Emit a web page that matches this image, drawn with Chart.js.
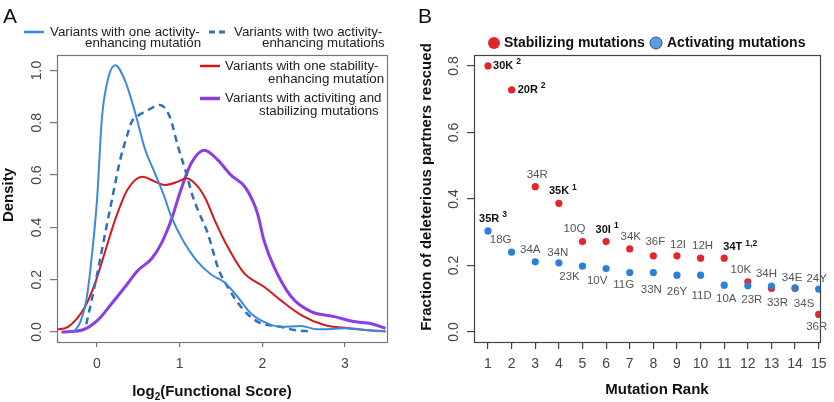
<!DOCTYPE html>
<html>
<head>
<meta charset="utf-8">
<script src="https://cdn.jsdelivr.net/npm/chart.js@4.4.1/dist/chart.umd.min.js"></script>
<style>
html, body { margin: 0; padding: 0; background: #fff; }
#wrap { position: relative; width: 834px; height: 402px; }
canvas { position: absolute; top: 0; }
#chartA { left: 0; }
#chartB { left: 417px; }
</style>
</head>
<body>
<div id="wrap">
  <canvas id="chartA" width="417" height="402"></canvas>
  <canvas id="chartB" width="417" height="402"></canvas>
</div>
<script>
const FONT = '"Liberation Sans", Arial, Helvetica, sans-serif';

// ---- Panel A: density curves (log2 functional score vs density) ----
const oneActX = [-0.28, -0.2, -0.13, -0.08, 0.0, 0.06, 0.14, 0.22, 0.34, 0.46, 0.58, 0.70, 0.80, 0.90, 1.04, 1.20, 1.38, 1.54, 1.70, 1.86, 2.06, 2.22, 2.47, 2.66, 2.85, 3.03, 3.25, 3.49];
const oneActY = [0.0, 0.04, 0.12, 0.24, 0.505, 0.82, 0.976, 1.02, 0.96, 0.84, 0.70, 0.607, 0.53, 0.44, 0.35, 0.275, 0.22, 0.19, 0.135, 0.072, 0.033, 0.02, 0.023, 0.011, 0.012, 0.015, 0.008, 0.003];

const twoActX = [-0.13, -0.08, 0.02, 0.10, 0.18, 0.28, 0.36, 0.42, 0.48, 0.62, 0.76, 0.88, 0.98, 1.08, 1.16, 1.22, 1.34, 1.47, 1.58, 1.74, 1.94, 2.22, 2.39, 2.60];
const twoActY = [0.03, 0.10, 0.25, 0.38, 0.505, 0.658, 0.747, 0.804, 0.823, 0.849, 0.868, 0.823, 0.709, 0.607, 0.517, 0.467, 0.377, 0.24, 0.173, 0.097, 0.04, 0.02, 0.008, 0.002];

const oneStabX = [-0.48, -0.35, -0.145, -0.02, 0.10, 0.22, 0.37, 0.55, 0.70, 0.82, 0.98, 1.08, 1.22, 1.32, 1.42, 1.58, 1.78, 2.02, 2.22, 2.47, 2.75, 3.03, 3.25, 3.49];
const oneStabY = [0.01, 0.02, 0.097, 0.19, 0.31, 0.43, 0.545, 0.594, 0.575, 0.562, 0.575, 0.588, 0.556, 0.505, 0.43, 0.326, 0.225, 0.173, 0.122, 0.065, 0.027, 0.015, 0.008, 0.002];

const bothX = [-0.43, -0.18, 0.01, 0.18, 0.34, 0.50, 0.66, 0.78, 0.90, 1.0, 1.14, 1.30, 1.46, 1.62, 1.80, 1.94, 2.02, 2.14, 2.35, 2.59, 2.87, 3.11, 3.31, 3.49];
const bothY = [0.0, 0.008, 0.046, 0.11, 0.173, 0.237, 0.28, 0.34, 0.43, 0.53, 0.645, 0.695, 0.658, 0.60, 0.55, 0.455, 0.35, 0.25, 0.135, 0.078, 0.059, 0.04, 0.033, 0.014];

const aTicksX = [0, 1, 2, 3];
const aTicksY = [0.0, 0.2, 0.4, 0.6, 0.8, 1.0];

// ---- Panel B: fraction rescued by mutation rank ----
const ranks = [1, 2, 3, 4, 5, 6, 7, 8, 9, 10, 11, 12, 13, 14, 15];
const stabValues = [0.80, 0.728, 0.437, 0.387, 0.272, 0.272, 0.250, 0.229, 0.229, 0.222, 0.222, 0.151, 0.131, 0.131, 0.053];
const stabNames = ['30K', '20R', '34R', '35K', '10Q', '30I', '34K', '36F', '12I', '12H', '34T', '10K', '33R', '34S', '36R'];
const stabSup = ['2', '2', '', '1', '', '1', '', '', '', '', '1,2', '', '', '', ''];
const actValues = [0.304, 0.240, 0.211, 0.208, 0.198, 0.191, 0.179, 0.179, 0.171, 0.171, 0.141, 0.139, 0.138, 0.133, 0.129];
const actNames = ['35R', '18G', '34A', '34N', '23K', '10V', '11G', '33N', '26Y', '11D', '10A', '23R', '34H', '34E', '24Y'];
const actSup = ['3', '', '', '', '', '', '', '', '', '', '', '', '', '', ''];
const bTicksX = ranks;
const bTicksY = [0.0, 0.2, 0.4, 0.6, 0.8];

// label placement (pixel offsets from the point), layout only
const stabLabelOff = [[19, 0], [20, 0], [2, -12], [4, -12], [-8, -13], [1, -12], [1, -12], [2, -14], [1, -11], [2, -12], [16, -11], [-7, -12], [6, 14], [9, 15], [-2, 12]];
const actLabelOff = [[5, -12], [-11, -12], [-5, -12], [-1, -10], [-13, 11], [-9, 12], [-6, 12], [-2, 17], [0, 17], [1, 21], [2, 14], [4, 14], [-5, -12], [-3, -10], [-2, -10]];

const toPts = (xs, ys) => xs.map((x, i) => ({ x: x, y: ys[i] }));

function fixTicks(list) {
    return function (scale) {
        scale.ticks = list.map(v => ({ value: v }));
    };
}

function drawYTickLabels(chart, vals, x) {
    const ctx = chart.ctx;
    const ys = chart.scales.y;
    ctx.save();
    ctx.font = '14px ' + FONT;
    ctx.fillStyle = '#444';
    ctx.textAlign = 'center';
    ctx.textBaseline = 'middle';
    vals.forEach(v => {
        ctx.save();
        ctx.translate(x, ys.getPixelForValue(v));
        ctx.rotate(-Math.PI / 2);
        ctx.fillText(v.toFixed(1), 0, 0);
        ctx.restore();
    });
    ctx.restore();
}

function drawRotTitle(ctx, text, x, y) {
    ctx.save();
    ctx.font = 'bold 15px ' + FONT;
    ctx.fillStyle = '#111';
    ctx.textAlign = 'center';
    ctx.textBaseline = 'middle';
    ctx.translate(x, y);
    ctx.rotate(-Math.PI / 2);
    ctx.fillText(text, 0, 0);
    ctx.restore();
}

function drawBox(chart, color) {
    const { ctx, chartArea: a } = chart;
    ctx.save();
    ctx.strokeStyle = color;
    ctx.lineWidth = 1.2;
    ctx.strokeRect(a.left + 0.5, a.top + 0.5, a.right - a.left, a.bottom - a.top);
    ctx.restore();
}

// ---- Chart A ----
const aSeries = [
    { name: ['Variants with one activity-', 'enhancing mutation'], color: '#3a8be0', width: 2, dash: [] },
    { name: ['Variants with two activity-', 'enhancing mutations'], color: '#2f6fbf', width: 2.5, dash: [7, 5] },
    { name: ['Variants with one stability-', 'enhancing mutation'], color: '#d9161b', width: 2, dash: [] },
    { name: ['Variants with activiting and', 'stabilizing mutations'], color: '#8a3ee6', width: 3, dash: [] }
];
const aData = [toPts(oneActX, oneActY), toPts(twoActX, twoActY), toPts(oneStabX, oneStabY), toPts(bothX, bothY)];

// legend spots: sample line start, line y, text start of each row
const aLegendPos = [
    { lx: 24, ly: 32, tx: [50, 85], ty: [32, 43.5] },
    { lx: 209, ly: 32, tx: [234, 262], ty: [32, 43.5] },
    { lx: 200, ly: 66, tx: [225, 268], ty: [66, 79] },
    { lx: 200, ly: 98.5, tx: [225, 259], ty: [98.5, 111] }
];

const panelA = {
    id: 'panelA',
    beforeDatasetsDraw(chart) {
        drawBox(chart, '#777');
    },
    afterDraw(chart) {
        const ctx = chart.ctx;
        ctx.save();
        ctx.font = '21px ' + FONT;
        ctx.fillStyle = '#111';
        ctx.textBaseline = 'alphabetic';
        ctx.fillText('A', 3, 23);

        aSeries.forEach((s, i) => {
            const p = aLegendPos[i];
            ctx.strokeStyle = s.color;
            ctx.lineWidth = s.width + 0.5;
            ctx.setLineDash(s.dash.length ? [6, 4] : []);
            ctx.beginPath();
            ctx.moveTo(p.lx, p.ly);
            ctx.lineTo(p.lx + 20, p.ly);
            ctx.stroke();
            ctx.setLineDash([]);
            ctx.font = '13.3px ' + FONT;
            ctx.fillStyle = '#222';
            ctx.textBaseline = 'middle';
            s.name.forEach((t, k) => ctx.fillText(t, p.tx[k], p.ty[k]));
        });

        // x title with subscript
        const f1 = 'bold 15px ' + FONT, f2 = 'bold 10px ' + FONT;
        ctx.font = f1;
        const w1 = ctx.measureText('log').width;
        const w3 = ctx.measureText('(Functional Score)').width;
        ctx.font = f2;
        const w2 = ctx.measureText('2').width;
        let x0 = 212 - (w1 + w2 + w3) / 2;
        ctx.fillStyle = '#111';
        ctx.textBaseline = 'alphabetic';
        ctx.font = f1;
        ctx.fillText('log', x0, 396);
        ctx.font = f2;
        ctx.fillText('2', x0 + w1, 400);
        ctx.font = f1;
        ctx.fillText('(Functional Score)', x0 + w1 + w2, 396);
        ctx.restore();

        drawRotTitle(ctx, 'Density', 9, 195);
        drawYTickLabels(chart, aTicksY, 37);
    }
};

new Chart(document.getElementById('chartA'), {
    type: 'line',
    data: {
        datasets: aSeries.map((s, i) => ({
            data: aData[i],
            borderColor: s.color,
            borderWidth: s.width,
            borderDash: s.dash,
            pointRadius: 0,
            fill: false,
            cubicInterpolationMode: 'monotone'
        }))
    },
    options: {
        responsive: false,
        animation: false,
        devicePixelRatio: 1,
        layout: { padding: { left: 0, top: 55, right: 30, bottom: 0 } },
        plugins: { legend: { display: false }, tooltip: { enabled: false } },
        scales: {
            x: {
                type: 'linear', min: -0.484, max: 3.508,
                afterBuildTicks: fixTicks(aTicksX),
                afterFit: s => { s.height = 60; },
                border: { display: false },
                grid: { drawOnChartArea: false, tickLength: 5, color: '#777', lineWidth: 1.2 },
                ticks: { font: { size: 14, family: FONT }, color: '#444', padding: 9, maxRotation: 0 }
            },
            y: {
                type: 'linear', min: -0.038, max: 1.059,
                afterBuildTicks: fixTicks(aTicksY),
                afterFit: s => { s.width = 57; },
                border: { display: false },
                grid: { drawOnChartArea: false, tickLength: 7, color: '#777', lineWidth: 1.2 },
                ticks: { display: false }
            }
        }
    },
    plugins: [panelA]
});

// ---- Chart B ----
const stabColor = '#e3262b';
const actColor = '#2b80da';

function drawPointLabel(ctx, text, sup, cx, cy) {
    const bold = sup !== '';
    const main = (bold ? 'bold 11px ' : '11.5px ') + FONT;
    const supF = 'bold 8.5px ' + FONT;
    ctx.font = main;
    const w1 = ctx.measureText(text).width;
    let w2 = 0;
    if (bold) {
        ctx.font = supF;
        w2 = ctx.measureText(sup).width + 3;
    }
    const x0 = cx - (w1 + w2) / 2;
    ctx.textAlign = 'left';
    ctx.textBaseline = 'middle';
    ctx.fillStyle = bold ? '#111' : '#555';
    ctx.font = main;
    ctx.fillText(text, x0, cy);
    if (bold) {
        ctx.font = supF;
        ctx.fillText(sup, x0 + w1 + 3, cy - 4);
    }
}

const panelB = {
    id: 'panelB',
    beforeDatasetsDraw(chart) {
        drawBox(chart, '#444');
    },
    afterDraw(chart) {
        const ctx = chart.ctx;
        ctx.save();
        ctx.font = '21px ' + FONT;
        ctx.fillStyle = '#111';
        ctx.textBaseline = 'alphabetic';
        ctx.fillText('B', 1, 23);

        // legend
        ctx.beginPath();
        ctx.arc(77, 43, 6, 0, Math.PI * 2);
        ctx.fillStyle = stabColor;
        ctx.fill();
        ctx.beginPath();
        ctx.arc(239, 43, 6, 0, Math.PI * 2);
        ctx.fillStyle = '#5a9be2';
        ctx.fill();
        ctx.strokeStyle = '#2a4f80';
        ctx.lineWidth = 1;
        ctx.stroke();
        ctx.font = 'bold 14px ' + FONT;
        ctx.fillStyle = '#111';
        ctx.textBaseline = 'middle';
        ctx.fillText('Stabilizing mutations', 87, 43);
        ctx.fillText('Activating mutations', 250, 43);

        // point labels
        const metaAct = chart.getDatasetMeta(0).data;
        const metaStab = chart.getDatasetMeta(1).data;
        metaAct.forEach((el, i) => drawPointLabel(ctx, actNames[i], actSup[i], el.x + actLabelOff[i][0], el.y + actLabelOff[i][1]));
        metaStab.forEach((el, i) => drawPointLabel(ctx, stabNames[i], stabSup[i], el.x + stabLabelOff[i][0], el.y + stabLabelOff[i][1]));

        ctx.font = 'bold 15px ' + FONT;
        ctx.fillStyle = '#111';
        ctx.textAlign = 'center';
        ctx.textBaseline = 'middle';
        ctx.fillText('Mutation Rank', 240, 390);
        ctx.restore();

        drawRotTitle(ctx, 'Fraction of deleterious partners rescued', 10, 187);
        drawYTickLabels(chart, bTicksY, 37);
    }
};

new Chart(document.getElementById('chartB'), {
    type: 'scatter',
    data: {
        datasets: [
            { label: 'Activating mutations', data: toPts(ranks, actValues), backgroundColor: actColor, borderWidth: 0, pointRadius: 3.6 },
            { label: 'Stabilizing mutations', data: toPts(ranks, stabValues), backgroundColor: stabColor, borderWidth: 0, pointRadius: 3.6 }
        ]
    },
    options: {
        responsive: false,
        animation: false,
        devicePixelRatio: 1,
        layout: { padding: { left: 0, top: 55, right: 14, bottom: 0 } },
        plugins: { legend: { display: false }, tooltip: { enabled: false } },
        scales: {
            x: {
                type: 'linear', min: 0.407, max: 15.055,
                afterBuildTicks: fixTicks(bTicksX),
                afterFit: s => { s.height = 60; },
                border: { display: false },
                grid: { drawOnChartArea: false, tickLength: 7, color: '#444', lineWidth: 1.2 },
                ticks: { font: { size: 14, family: FONT }, color: '#444', padding: 7, maxRotation: 0, autoSkip: false }
            },
            y: {
                type: 'linear', min: -0.030, max: 0.833,
                afterBuildTicks: fixTicks(bTicksY),
                afterFit: s => { s.width = 57; },
                border: { display: false },
                grid: { drawOnChartArea: false, tickLength: 7, color: '#444', lineWidth: 1.2 },
                ticks: { display: false }
            }
        }
    },
    plugins: [panelB]
});
</script>
</body>
</html>
